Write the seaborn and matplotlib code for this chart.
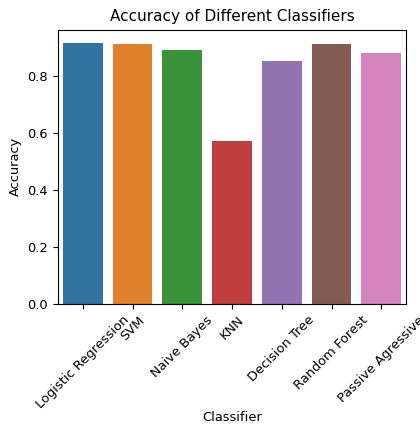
import matplotlib
matplotlib.use("Agg")
import matplotlib.pyplot as plt
import seaborn as sns
import pandas as pd

classifiers = ['Logistic Regression', 'SVM', 'Naive Bayes', 'KNN',
               'Decision Tree', 'Random Forest', 'Passive Agressive']
accuracy = [0.916, 0.913, 0.892, 0.573, 0.853, 0.913, 0.881]

plt.rcParams['font.size'] = 9.4

df = pd.DataFrame({'Classifier': classifiers, 'Accuracy': accuracy})

fig, ax = plt.subplots(figsize=(4.2, 4.25), dpi=100)
sns.barplot(data=df, x='Classifier', y='Accuracy', hue='Classifier',
            palette='tab10', legend=False, ax=ax)
ax.set_title('Accuracy of Different Classifiers', fontsize=11)
ax.set_xlabel('Classifier', labelpad=0)
plt.xticks(rotation=45)
fig.subplots_adjust(left=0.138, right=0.967, top=0.93, bottom=0.285)
fig.savefig('out.png')
